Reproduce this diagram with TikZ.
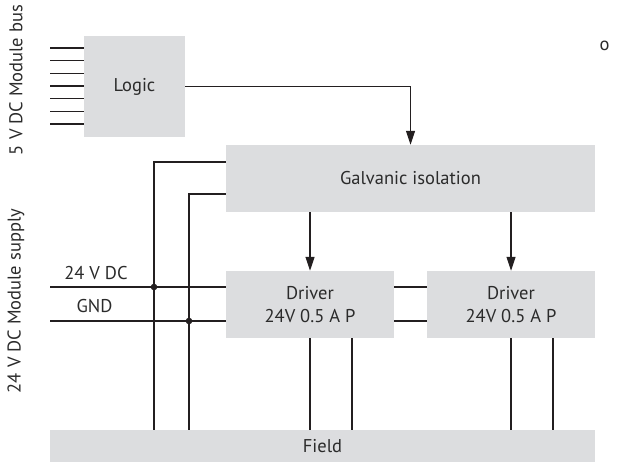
\documentclass[tikz,border=0pt]{standalone}
\usepackage{fontspec}
\setmainfont{PT Sans}
\usepackage{tikz}
\usetikzlibrary{arrows.meta,positioning,calc}
\definecolor{boxgray}{HTML}{DCDDDF}
\definecolor{wire}{HTML}{231F20}
\definecolor{inkgray}{HTML}{2B2B2B}

\begin{document}
\begin{tikzpicture}[
  x=1pt, y=-1pt,
  font=\fontsize{18.5}{22.5}\selectfont,
  every node/.style={text=inkgray},
  blockbox/.style={fill=boxgray, inner sep=0pt, align=center, text=inkgray},
  wireline/.style={draw=wire, line width=1.1pt},
  sigarrow/.style={wireline, -{Triangle[length=14pt, width=9pt]}},
  sidelabel/.style={rotate=90, anchor=center},
  joint/.style={fill=wire}
]
\useasboundingbox (0,0) rectangle (627,462);
% ---------------- blocks ----------------
\node[blockbox, minimum width=101pt, minimum height=101pt] (logic) at (134.5,86.5) {Logic};
\node[blockbox, minimum width=369pt, minimum height=67pt] (galv) at (410.5,178.5) {Galvanic isolation};
\node[blockbox, minimum width=168pt, minimum height=67pt] (drvA) at (310,304.5) {Driver\\24V 0.5 A P};
\node[blockbox, minimum width=168pt, minimum height=67pt] (drvB) at (511,304.5) {Driver\\24V 0.5 A P};
\node[blockbox, minimum width=545pt, minimum height=32pt] (field) at (322.5,446) {Field};
% ---------------- side labels ----------------
\node[sidelabel] (buslbl) at (16,80) {5 V DC Module bus};
\node[sidelabel] (supplylbl) at (16,301) {24 V DC Module supply};
\node (vlbl) at (96,273) {24 V DC};
\node (gndlbl) at (94.5,306) {GND};
\node[anchor=west] (cut) at (596,46) {o};
% ---------------- module bus ----------------
\foreach \y [count=\i] in {48,60.7,73.3,86,98.7,111.3,124}{
  \coordinate (bus\i) at (50,\y);
  \draw[wireline] (bus\i) -- (bus\i -| logic.west);
}
\draw[sigarrow] (logic.east) -| (galv.north);
\draw[sigarrow] (galv.south -| drvA.north) -- (drvA.north);
\draw[sigarrow] (galv.south -| drvB.north) -- (drvB.north);
% ---------------- supply ----------------
\coordinate (in24) at (50,287);
\coordinate (ingnd) at (50,321);
\coordinate (vcc) at (154,287);
\coordinate (gnd) at (189,321);
\draw[wireline] (in24) -- (in24 -| drvA.west);
\draw[wireline] (ingnd) -- (ingnd -| drvA.west);
\draw[wireline] (in24 -| drvA.east) -- (in24 -| drvB.west);
\draw[wireline] (ingnd -| drvA.east) -- (ingnd -| drvB.west);
\draw[wireline] ([yshift=16.5pt]galv.west) -| (vcc) -- (vcc |- field.north);
\draw[wireline] ([yshift=-15.5pt]galv.west) -| (gnd) -- (gnd |- field.north);
\fill[joint] (vcc) circle (3.3pt);
\fill[joint] (gnd) circle (3.3pt);
% ---------------- outputs ----------------
\draw[wireline] (drvA.south) -- (drvA.south |- field.north);
\draw[wireline] ([xshift=42pt]drvA.south) -- ([xshift=42pt]drvA.south |- field.north);
\draw[wireline] (drvB.south) -- (drvB.south |- field.north);
\draw[wireline] ([xshift=42pt]drvB.south) -- ([xshift=42pt]drvB.south |- field.north);
\end{tikzpicture}
\end{document}
